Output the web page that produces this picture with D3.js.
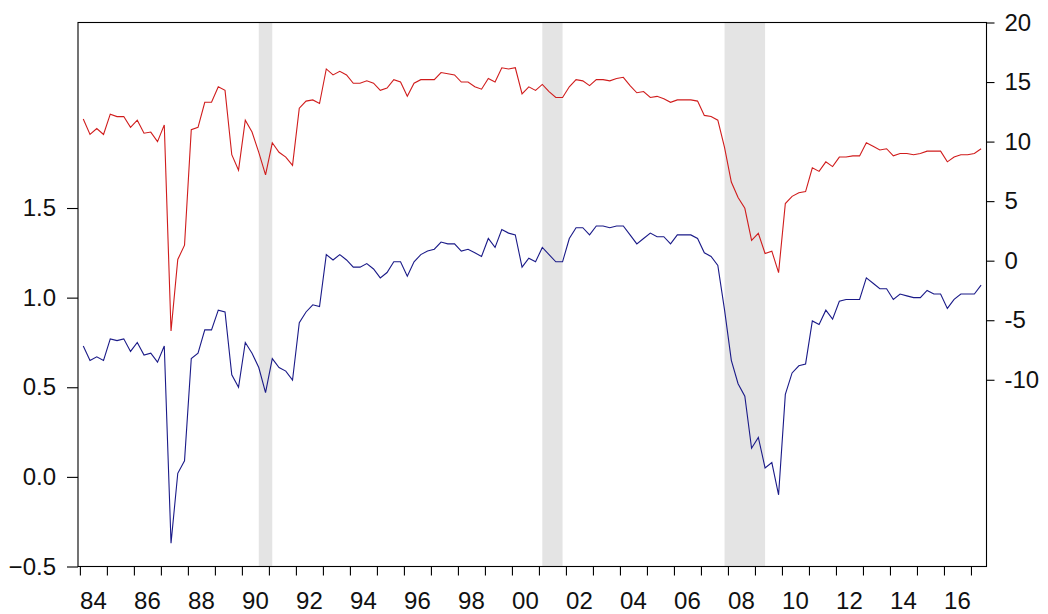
<!DOCTYPE html>
<html>
<head>
<meta charset="utf-8">
<script src="https://cdn.jsdelivr.net/npm/d3@7"></script>
<style>
  body { margin: 0; background: #fff; }
  svg { display: block; }
</style>
</head>
<body>
<div id="chart"></div>
<script>
// Quarterly data, 1984Q1 .. 2017Q2
const startYear = 1984;

// left axis series (blue)
const blue = [
  0.73, 0.65, 0.67, 0.65,
  0.77, 0.76, 0.77, 0.70,
  0.75, 0.68, 0.69, 0.64,
  0.73, -0.37, 0.02, 0.09,
  0.66, 0.69, 0.82, 0.82,
  0.93, 0.92, 0.57, 0.50,
  0.75, 0.69, 0.61, 0.47,
  0.66, 0.61, 0.59, 0.54,
  0.86, 0.92, 0.96, 0.95,
  1.24, 1.21, 1.24, 1.21,
  1.17, 1.17, 1.19, 1.16,
  1.11, 1.14, 1.20, 1.20,
  1.12, 1.20, 1.24, 1.26,
  1.27, 1.31, 1.30, 1.30,
  1.26, 1.27, 1.25, 1.23,
  1.33, 1.28, 1.38, 1.36,
  1.35, 1.17, 1.22, 1.20,
  1.28, 1.24, 1.20, 1.20,
  1.33, 1.39, 1.39, 1.35,
  1.40, 1.40, 1.39, 1.40,
  1.40, 1.35, 1.30, 1.33,
  1.36, 1.34, 1.34, 1.30,
  1.35, 1.35, 1.35, 1.33,
  1.25, 1.23, 1.18, 0.93,
  0.65, 0.52, 0.45, 0.16,
  0.22, 0.05, 0.08, -0.10,
  0.46, 0.58, 0.62, 0.63,
  0.87, 0.85, 0.93, 0.88,
  0.98, 0.99, 0.99, 0.99,
  1.11, 1.08, 1.05, 1.05,
  0.99, 1.02, 1.01, 1.00,
  1.00, 1.04, 1.02, 1.02,
  0.94, 0.99, 1.02, 1.02,
  1.02, 1.07
];

// right axis series (red)
const red = [
  11.9, 10.6, 11.1, 10.6,
  12.3, 12.1, 12.1, 11.2,
  11.8, 10.7, 10.8, 10.0,
  11.4, -5.9, 0.1, 1.3,
  11.0, 11.2, 13.3, 13.3,
  14.6, 14.3, 8.9, 7.6,
  11.8, 10.8, 9.1, 7.2,
  9.9, 9.1, 8.7, 8.0,
  12.8, 13.4, 13.5, 13.2,
  16.1, 15.6, 15.9, 15.6,
  14.9, 14.9, 15.1, 14.9,
  14.3, 14.5, 15.2, 15.0,
  13.8, 14.9, 15.2, 15.2,
  15.2, 15.8, 15.7, 15.6,
  15.0, 15.0, 14.6, 14.4,
  15.3, 15.0, 16.2, 16.1,
  16.2, 14.0, 14.6, 14.3,
  14.8, 14.2, 13.7, 13.7,
  14.6, 15.2, 15.1, 14.7,
  15.2, 15.2, 15.1, 15.3,
  15.4, 14.7, 14.1, 14.2,
  13.7, 13.8, 13.6, 13.3,
  13.5, 13.5, 13.5, 13.4,
  12.2, 12.1, 11.8, 9.5,
  6.6, 5.3, 4.4, 1.7,
  2.3, 0.6, 0.8, -1.0,
  4.8, 5.4, 5.7, 5.8,
  7.8, 7.5, 8.3, 7.9,
  8.7, 8.7, 8.8, 8.8,
  9.9, 9.6, 9.3, 9.4,
  8.8, 9.0, 9.0, 8.9,
  9.0, 9.2, 9.2, 9.2,
  8.3, 8.7, 8.9, 8.9,
  9.0, 9.4
];

// recession shading (first and last quarter)
const recessions = [
  ["1990Q3", "1991Q1"],
  ["2001Q1", "2001Q4"],
  ["2007Q4", "2009Q2"]
];

const leftTicks = [-0.5, 0.0, 0.5, 1.0, 1.5];
const rightTicks = [-10, -5, 0, 5, 10, 15, 20];
const yearTicks = d3.range(1984, 2018);
const yearLabels = d3.range(1984, 2017, 2);

const width = 1048, height = 614;
const plot = {left: 78, right: 986.5, top: 22.5, bottom: 566.5};
const font = "Liberation Sans, Arial, sans-serif";
const fontSize = 24;

// quarter centre as decimal year
const qTime = i => startYear + (i + 0.5) / 4;
const parseQ = s => +s.slice(0, 4) + (+s.slice(5) - 0.5) / 4;

const svg = d3.select("#chart")
  .append("svg")
  .attr("width", width)
  .attr("height", height);

const x = d3.scaleLinear()
  .domain([1983.93, 2017.575])
  .range([plot.left, plot.right]);

const yL = d3.scaleLinear()
  .domain([-0.5, 2.535])
  .range([plot.bottom, plot.top]);

const yR = d3.scaleLinear()
  .domain([-25.68, 20])
  .range([plot.bottom, plot.top]);

// shading
svg.selectAll(".rec")
  .data(recessions)
  .enter().append("rect")
  .attr("class", "rec")
  .attr("x", d => x(parseQ(d[0])))
  .attr("width", d => x(parseQ(d[1])) - x(parseQ(d[0])))
  .attr("y", plot.top)
  .attr("height", plot.bottom - plot.top)
  .attr("fill", "#e4e4e4");

// lines
const lineL = d3.line().x((d, i) => x(qTime(i))).y(d => yL(d));
const lineR = d3.line().x((d, i) => x(qTime(i))).y(d => yR(d));

svg.append("path")
  .datum(blue)
  .attr("d", lineL)
  .attr("fill", "none")
  .attr("stroke", "#1a1a88")
  .attr("stroke-width", 1.1);

svg.append("path")
  .datum(red)
  .attr("d", lineR)
  .attr("fill", "none")
  .attr("stroke", "#d01c1c")
  .attr("stroke-width", 1.1);

// frame
svg.append("rect")
  .attr("x", plot.left)
  .attr("y", plot.top)
  .attr("width", plot.right - plot.left)
  .attr("height", plot.bottom - plot.top)
  .attr("fill", "none")
  .attr("stroke", "#000")
  .attr("stroke-width", 1.1);

// axes
const styleAxis = g => {
  g.select(".domain").remove();
  g.selectAll(".tick line").attr("stroke", "#000").attr("stroke-width", 1.1);
  g.selectAll("text")
    .attr("font-family", font)
    .attr("font-size", fontSize)
    .attr("fill", "#111");
};

svg.append("g")
  .attr("transform", `translate(${plot.left},0)`)
  .call(d3.axisLeft(yL).tickValues(leftTicks).tickSize(11).tickPadding(11)
    .tickFormat(d3.format(".1f")))
  .call(styleAxis);

svg.append("g")
  .attr("transform", `translate(${plot.right},0)`)
  .call(d3.axisRight(yR).tickValues(rightTicks).tickSize(8).tickPadding(10)
    .tickFormat(d => String(d)))
  .call(styleAxis);

svg.append("g")
  .attr("transform", `translate(0,${plot.bottom})`)
  .call(d3.axisBottom(x).tickValues(yearTicks).tickSize(9).tickFormat(""))
  .call(styleAxis);

svg.selectAll(".ylab")
  .data(yearLabels)
  .enter().append("text")
  .attr("class", "ylab")
  .attr("x", d => x(d + 0.5))
  .attr("y", 609)
  .attr("text-anchor", "middle")
  .attr("font-family", font)
  .attr("font-size", fontSize)
  .attr("fill", "#111")
  .text(d => String(d % 100).padStart(2, "0"));
</script>
</body>
</html>
